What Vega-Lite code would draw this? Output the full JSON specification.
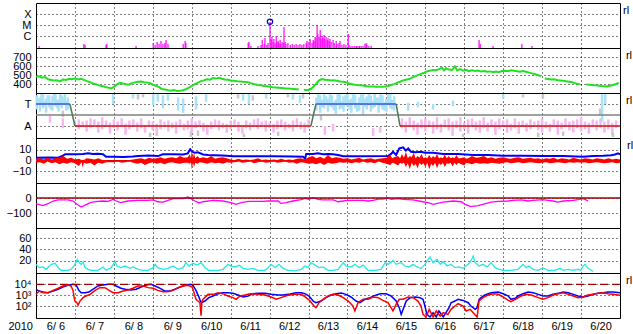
{
"$schema":"https://vega.github.io/schema/vega-lite/v6.json",
"background":"white",
"padding":{"left":5,"top":2,"right":0,"bottom":0},
"spacing":0,
"bounds":"flush",
"config":{
"view":{"stroke":"black","strokeWidth":1},
"font":"Liberation Sans",
"axis":{"labelFont":"Liberation Sans","labelFontSize":11,"labelColor":"black","ticks":false,"domain":false,"grid":true,"gridColor":"black","gridDash":[1,3],"gridWidth":1,"gridOpacity":1,"labelPadding":5,"labelOverlap":false,"labelFlush":false},
"axisY":{"labelBaseline":"middle","minExtent":28,"maxExtent":28,"orient":"left"},
"axisX":{"orient":"bottom"},
"title":{"orient":"right","anchor":"start","frame":"group","angle":0,"fontSize":11,"fontWeight":"normal","font":"Liberation Sans","offset":-3,"baseline":"top","align":"left","dy":2,"color":"black"}
},
"datasets":{
"xr":[{"t":0.08,"v":-0.91},{"t":1.23,"v":-0.73},{"t":1.26,"v":-0.82},{"t":1.80,"v":-0.82},{"t":1.82,"v":-0.73},{"t":2.57,"v":-0.91},{"t":3.01,"v":-0.64},{"t":3.06,"v":-0.82},{"t":3.11,"v":-0.55},{"t":3.16,"v":-0.73},{"t":3.21,"v":-0.45},{"t":3.26,"v":-0.73},{"t":3.31,"v":-0.64},{"t":3.34,"v":-0.36},{"t":3.39,"v":-0.73},{"t":3.78,"v":-0.73},{"t":3.83,"v":-0.45},{"t":3.85,"v":-0.64},{"t":5.45,"v":-0.64},{"t":5.47,"v":-0.55},{"t":5.52,"v":-0.91},{"t":5.70,"v":-0.91},{"t":5.78,"v":-0.82},{"t":5.81,"v":-0.36},{"t":5.86,"v":-0.73},{"t":5.88,"v":-0.18},{"t":5.93,"v":-0.82},{"t":5.96,"v":-0.64},{"t":6.01,"v":1.27},{"t":6.04,"v":-0.36},{"t":6.06,"v":-0.09},{"t":6.09,"v":-0.55},{"t":6.11,"v":-0.27},{"t":6.14,"v":-0.64},{"t":6.17,"v":0},{"t":6.19,"v":-0.55},{"t":6.22,"v":-0.45},{"t":6.24,"v":-0.64},{"t":6.27,"v":-0.36},{"t":6.29,"v":-0.73},{"t":6.32,"v":-0.55},{"t":6.35,"v":-0.64},{"t":6.37,"v":0.82},{"t":6.40,"v":-0.55},{"t":6.42,"v":-0.73},{"t":6.47,"v":-0.64},{"t":6.53,"v":-0.82},{"t":6.58,"v":-0.73},{"t":6.63,"v":-0.82},{"t":6.68,"v":-0.73},{"t":6.73,"v":-0.82},{"t":6.78,"v":-0.73},{"t":6.83,"v":-0.82},{"t":6.88,"v":-0.73},{"t":6.94,"v":-0.64},{"t":6.96,"v":-0.45},{"t":7.01,"v":-0.55},{"t":7.04,"v":-0.27},{"t":7.09,"v":-0.64},{"t":7.12,"v":-0.36},{"t":7.14,"v":-0.45},{"t":7.17,"v":-0.09},{"t":7.19,"v":-0.18},{"t":7.22,"v":1.0},{"t":7.24,"v":0.18},{"t":7.27,"v":-0.09},{"t":7.30,"v":0.55},{"t":7.32,"v":-0.27},{"t":7.35,"v":0},{"t":7.37,"v":-0.18},{"t":7.40,"v":0.09},{"t":7.42,"v":-0.27},{"t":7.45,"v":-0.09},{"t":7.48,"v":-0.36},{"t":7.50,"v":-0.18},{"t":7.53,"v":-0.45},{"t":7.55,"v":-0.27},{"t":7.58,"v":-0.55},{"t":7.63,"v":-0.36},{"t":7.66,"v":-0.64},{"t":7.71,"v":-0.45},{"t":7.73,"v":-0.73},{"t":7.78,"v":-0.64},{"t":7.81,"v":-0.45},{"t":7.86,"v":-0.82},{"t":7.91,"v":-0.73},{"t":7.96,"v":-0.82},{"t":8.02,"v":0.18},{"t":8.04,"v":-0.82},{"t":8.09,"v":-0.91},{"t":8.14,"v":-0.91},{"t":8.19,"v":-0.91},{"t":8.23,"v":-0.91},{"t":8.27,"v":-0.91},{"t":8.31,"v":-0.91},{"t":8.35,"v":-0.91},{"t":8.40,"v":-0.91},{"t":8.45,"v":-0.73},{"t":8.48,"v":-0.64},{"t":8.50,"v":-0.82},{"t":8.55,"v":-0.91},{"t":8.61,"v":-0.91},{"t":11.38,"v":-0.36},{"t":11.41,"v":-0.73},{"t":11.74,"v":-0.91},{"t":12.48,"v":-0.73},{"t":12.74,"v":-0.91}],
"xo":[{"t":6.01,"v":1.3}],
"sw":[{"t":0.00,"v":480,"s":1},{"t":0.08,"v":485,"s":1},{"t":0.15,"v":470,"s":1},{"t":0.23,"v":478,"s":1},{"t":0.31,"v":452,"s":1},{"t":0.39,"v":445,"s":1},{"t":0.46,"v":438,"s":1},{"t":0.54,"v":442,"s":1},{"t":0.62,"v":428,"s":1},{"t":0.69,"v":450,"s":1},{"t":0.77,"v":445,"s":1},{"t":0.85,"v":458,"s":1},{"t":0.92,"v":452,"s":1},{"t":1.00,"v":460,"s":1},{"t":1.08,"v":450,"s":1},{"t":1.16,"v":458,"s":1},{"t":1.23,"v":446,"s":1},{"t":1.31,"v":432,"s":1},{"t":1.39,"v":420,"s":1},{"t":1.46,"v":405,"s":1},{"t":1.54,"v":398,"s":1},{"t":1.62,"v":385,"s":1},{"t":1.69,"v":378,"s":1},{"t":1.77,"v":370,"s":1},{"t":1.85,"v":360,"s":1},{"t":1.93,"v":352,"s":1},{"t":2.00,"v":368,"s":1},{"t":2.08,"v":395,"s":1},{"t":2.16,"v":412,"s":1},{"t":2.23,"v":405,"s":1},{"t":2.31,"v":398,"s":1},{"t":2.39,"v":392,"s":1},{"t":2.46,"v":410,"s":1},{"t":2.54,"v":418,"s":1},{"t":2.62,"v":425,"s":1},{"t":2.70,"v":428,"s":1},{"t":2.77,"v":420,"s":1},{"t":2.85,"v":418,"s":1},{"t":2.93,"v":410,"s":1},{"t":3.00,"v":392,"s":1},{"t":3.08,"v":380,"s":1},{"t":3.16,"v":365,"s":1},{"t":3.23,"v":345,"s":1},{"t":3.31,"v":340,"s":1},{"t":3.39,"v":330,"s":1},{"t":3.47,"v":326,"s":1},{"t":3.54,"v":332,"s":1},{"t":3.62,"v":322,"s":1},{"t":3.70,"v":325,"s":1},{"t":3.77,"v":330,"s":1},{"t":3.85,"v":342,"s":1},{"t":3.93,"v":360,"s":1},{"t":4.00,"v":380,"s":1},{"t":4.08,"v":398,"s":1},{"t":4.16,"v":415,"s":1},{"t":4.24,"v":432,"s":1},{"t":4.31,"v":440,"s":1},{"t":4.39,"v":452,"s":1},{"t":4.47,"v":448,"s":1},{"t":4.54,"v":466,"s":1},{"t":4.62,"v":460,"s":1},{"t":4.70,"v":468,"s":1},{"t":4.77,"v":458,"s":1},{"t":4.85,"v":450,"s":1},{"t":4.93,"v":448,"s":1},{"t":5.00,"v":440,"s":1},{"t":5.08,"v":436,"s":1},{"t":5.16,"v":430,"s":1},{"t":5.24,"v":428,"s":1},{"t":5.31,"v":424,"s":1},{"t":5.39,"v":422,"s":1},{"t":5.47,"v":418,"s":1},{"t":5.54,"v":405,"s":1},{"t":5.62,"v":396,"s":1},{"t":5.70,"v":390,"s":1},{"t":5.78,"v":385,"s":1},{"t":5.85,"v":378,"s":1},{"t":5.93,"v":375,"s":1},{"t":6.01,"v":370,"s":1},{"t":6.08,"v":365,"s":1},{"t":6.16,"v":362,"s":1},{"t":6.24,"v":358,"s":1},{"t":6.31,"v":355,"s":1},{"t":6.39,"v":352,"s":1},{"t":6.47,"v":350,"s":1},{"t":6.55,"v":348,"s":1},{"t":6.62,"v":345,"s":1},{"t":6.70,"v":342,"s":1},{"t":6.75,"v":340,"s":1},
{"t":6.88,"v":336,"s":2},{"t":6.96,"v":330,"s":2},{"t":7.04,"v":338,"s":2},{"t":7.11,"v":365,"s":2},{"t":7.19,"v":400,"s":2},{"t":7.27,"v":440,"s":2},{"t":7.35,"v":455,"s":2},{"t":7.42,"v":448,"s":2},{"t":7.50,"v":445,"s":2},{"t":7.58,"v":440,"s":2},{"t":7.66,"v":442,"s":2},{"t":7.73,"v":436,"s":2},{"t":7.81,"v":428,"s":2},{"t":7.89,"v":425,"s":2},{"t":7.96,"v":420,"s":2},{"t":8.04,"v":405,"s":2},{"t":8.12,"v":398,"s":2},{"t":8.19,"v":392,"s":2},{"t":8.27,"v":388,"s":2},{"t":8.35,"v":385,"s":2},{"t":8.43,"v":380,"s":2},{"t":8.50,"v":376,"s":2},{"t":8.58,"v":373,"s":2},{"t":8.66,"v":372,"s":2},{"t":8.73,"v":370,"s":2},{"t":8.81,"v":370,"s":2},{"t":8.89,"v":369,"s":2},{"t":8.97,"v":372,"s":2},{"t":9.04,"v":378,"s":2},{"t":9.12,"v":388,"s":2},{"t":9.20,"v":398,"s":2},{"t":9.27,"v":412,"s":2},{"t":9.35,"v":425,"s":2},{"t":9.43,"v":440,"s":2},{"t":9.50,"v":448,"s":2},{"t":9.58,"v":455,"s":2},{"t":9.66,"v":470,"s":2},{"t":9.74,"v":485,"s":2},{"t":9.81,"v":498,"s":2},{"t":9.89,"v":512,"s":2},{"t":9.97,"v":525,"s":2},{"t":10.04,"v":540,"s":2},{"t":10.12,"v":548,"s":2},{"t":10.20,"v":555,"s":2},{"t":10.28,"v":552,"s":2},{"t":10.35,"v":565,"s":2},{"t":10.43,"v":580,"s":2},{"t":10.48,"v":550,"s":2},{"t":10.53,"v":575,"s":2},{"t":10.61,"v":560,"s":2},{"t":10.69,"v":556,"s":2},{"t":10.76,"v":595,"s":2},{"t":10.82,"v":550,"s":2},{"t":10.89,"v":565,"s":2},{"t":10.97,"v":548,"s":2},{"t":11.05,"v":558,"s":2},{"t":11.12,"v":542,"s":2},{"t":11.20,"v":552,"s":2},{"t":11.28,"v":545,"s":2},{"t":11.35,"v":550,"s":2},{"t":11.43,"v":538,"s":2},{"t":11.51,"v":545,"s":2},{"t":11.59,"v":536,"s":2},{"t":11.66,"v":540,"s":2},{"t":11.74,"v":530,"s":2},{"t":11.82,"v":538,"s":2},{"t":11.89,"v":532,"s":2},{"t":11.97,"v":545,"s":2},{"t":12.05,"v":548,"s":2},{"t":12.13,"v":542,"s":2},{"t":12.20,"v":552,"s":2},{"t":12.28,"v":546,"s":2},{"t":12.36,"v":542,"s":2},{"t":12.43,"v":536,"s":2},{"t":12.51,"v":545,"s":2},{"t":12.59,"v":536,"s":2},{"t":12.66,"v":526,"s":2},{"t":12.74,"v":518,"s":2},{"t":12.82,"v":508,"s":2},{"t":12.90,"v":498,"s":2},{"t":12.97,"v":488,"s":2},
{"t":13.07,"v":460,"s":3},{"t":13.15,"v":455,"s":3},{"t":13.23,"v":450,"s":3},{"t":13.30,"v":452,"s":3},{"t":13.38,"v":445,"s":3},{"t":13.46,"v":440,"s":3},{"t":13.53,"v":435,"s":3},{"t":13.61,"v":430,"s":3},{"t":13.69,"v":425,"s":3},{"t":13.77,"v":420,"s":3},{"t":13.84,"v":410,"s":3},{"t":13.92,"v":400,"s":3},{"t":13.97,"v":396,"s":3},
{"t":14.13,"v":395,"s":4},{"t":14.20,"v":392,"s":4},{"t":14.28,"v":388,"s":4},{"t":14.36,"v":385,"s":4},{"t":14.44,"v":383,"s":4},{"t":14.51,"v":378,"s":4},{"t":14.59,"v":375,"s":4},{"t":14.67,"v":372,"s":4},{"t":14.74,"v":380,"s":4},{"t":14.82,"v":388,"s":4},{"t":14.90,"v":400,"s":4},{"t":14.97,"v":412,"s":4}],
"tal":[{"t":0,"v":1,"c":"Tl","s":1},{"t":0.87,"v":1,"c":"Tl","s":1},{"t":0.87,"v":1,"c":"Xl","s":2},{"t":1.0,"v":-1,"c":"Xl","s":2},{"t":1.0,"v":-1,"c":"Al","s":3},{"t":7.06,"v":-1,"c":"Al","s":3},{"t":7.06,"v":-1,"c":"Xl","s":4},{"t":7.19,"v":1,"c":"Xl","s":4},{"t":7.19,"v":1,"c":"Tl","s":5},{"t":9.25,"v":1,"c":"Tl","s":5},{"t":9.25,"v":1,"c":"Xl","s":6},{"t":9.35,"v":-1,"c":"Xl","s":6},{"t":9.35,"v":-1,"c":"Al","s":7},{"t":15,"v":-1,"c":"Al","s":7}],
"tas":[{"t":0.02,"lo":0.5,"hi":1.8,"k":"Tp"},{"t":0.06,"lo":0.9,"hi":1.5,"k":"Tp"},{"t":0.1,"lo":0.3,"hi":1.6,"k":"Tp"},{"t":0.14,"lo":1.0,"hi":1.9,"k":"Tp"},{"t":0.18,"lo":0.6,"hi":1.9,"k":"Tp"},{"t":0.22,"lo":0.8,"hi":1.3,"k":"Tp"},{"t":0.26,"lo":0.2,"hi":1.5,"k":"Tp"},{"t":0.3,"lo":1.1,"hi":1.8,"k":"Tp"},{"t":0.34,"lo":0.7,"hi":1.8,"k":"Tp"},{"t":0.38,"lo":0.5,"hi":1.2,"k":"Tp"},{"t":0.42,"lo":0.4,"hi":1.7,"k":"Tp"},{"t":0.46,"lo":1.2,"hi":1.9,"k":"Tp"},{"t":0.5,"lo":0.8,"hi":1.9,"k":"Tp"},{"t":0.54,"lo":0.6,"hi":1.4,"k":"Tp"},{"t":0.58,"lo":0.3,"hi":1.4,"k":"Tp"},{"t":0.62,"lo":1.0,"hi":1.9,"k":"Tp"},{"t":0.66,"lo":0.6,"hi":1.8,"k":"Tp"},{"t":0.7,"lo":0.9,"hi":1.6,"k":"Tp"},{"t":0.74,"lo":0.9,"hi":1.9,"k":"Tp"},{"t":0.78,"lo":0.4,"hi":1.3,"k":"Tp"},{"t":0.82,"lo":0.5,"hi":1.6,"k":"Tp"},
{"t":1.0,"lo":-1.0,"hi":-0.5,"k":"Ap"},{"t":1.1,"lo":-1.3,"hi":-0.4,"k":"Ap"},{"t":1.2,"lo":-1.1,"hi":-0.6,"k":"Ap"},{"t":1.3,"lo":-1.5,"hi":-0.5,"k":"Ap"},{"t":1.4,"lo":-1.2,"hi":-0.3,"k":"Ap"},{"t":1.5,"lo":-0.9,"hi":-0.4,"k":"Ap"},{"t":1.6,"lo":-1.6,"hi":-0.6,"k":"Ap"},{"t":1.7,"lo":-1.3,"hi":-0.2,"k":"Ap"},{"t":1.8,"lo":-1.0,"hi":-0.5,"k":"Ap"},{"t":1.9,"lo":-1.7,"hi":-0.7,"k":"Ap"},{"t":2.0,"lo":-1.2,"hi":-0.4,"k":"Ap"},{"t":2.1,"lo":-1.4,"hi":-0.6,"k":"Ap"},{"t":2.2,"lo":-1.1,"hi":-0.3,"k":"Ap"},{"t":2.3,"lo":-1.8,"hi":-0.8,"k":"Ap"},{"t":2.4,"lo":-1.3,"hi":-0.5,"k":"Ap"},{"t":2.5,"lo":-1.0,"hi":-0.4,"k":"Ap"},{"t":2.6,"lo":-1.5,"hi":-0.7,"k":"Ap"},{"t":2.7,"lo":-1.2,"hi":-0.3,"k":"Ap"},{"t":2.8,"lo":-1.6,"hi":-0.9,"k":"Ap"},{"t":2.9,"lo":-1.1,"hi":-0.5,"k":"Ap"},{"t":3.0,"lo":-1.4,"hi":-0.6,"k":"Ap"},{"t":3.1,"lo":-1.9,"hi":-0.8,"k":"Ap"},{"t":3.2,"lo":-1.3,"hi":-0.4,"k":"Ap"},{"t":3.3,"lo":-1.0,"hi":-0.6,"k":"Ap"},{"t":3.4,"lo":-1.5,"hi":-0.5,"k":"Ap"},{"t":3.5,"lo":-1.2,"hi":-0.7,"k":"Ap"},{"t":3.6,"lo":-1.7,"hi":-0.6,"k":"Ap"},{"t":3.7,"lo":-1.1,"hi":-0.4,"k":"Ap"},{"t":3.8,"lo":-1.4,"hi":-0.8,"k":"Ap"},{"t":3.9,"lo":-1.3,"hi":-0.5,"k":"Ap"},{"t":4.0,"lo":-1.6,"hi":-0.3,"k":"Ap"},{"t":4.1,"lo":-1.2,"hi":-0.6,"k":"Ap"},{"t":4.2,"lo":-1.0,"hi":-0.5,"k":"Ap"},{"t":4.3,"lo":-1.5,"hi":-0.7,"k":"Ap"},{"t":4.4,"lo":-1.8,"hi":-0.9,"k":"Ap"},{"t":4.5,"lo":-1.3,"hi":-0.6,"k":"Ap"},{"t":4.6,"lo":-1.1,"hi":-0.4,"k":"Ap"},{"t":4.7,"lo":-1.4,"hi":-0.5,"k":"Ap"},{"t":4.8,"lo":-1.2,"hi":-0.7,"k":"Ap"},{"t":4.9,"lo":-1.6,"hi":-0.8,"k":"Ap"},{"t":5.0,"lo":-1.3,"hi":-0.5,"k":"Ap"},{"t":5.1,"lo":-1.0,"hi":-0.4,"k":"Ap"},{"t":5.2,"lo":-1.5,"hi":-0.6,"k":"Ap"},{"t":5.3,"lo":-1.7,"hi":-0.9,"k":"Ap"},{"t":5.4,"lo":-1.2,"hi":-0.5,"k":"Ap"},{"t":5.5,"lo":-1.4,"hi":-0.7,"k":"Ap"},{"t":5.6,"lo":-1.1,"hi":-0.4,"k":"Ap"},{"t":5.7,"lo":-1.3,"hi":-0.3,"k":"Ap"},{"t":5.8,"lo":-1.0,"hi":-0.6,"k":"Ap"},{"t":5.9,"lo":-1.5,"hi":-0.5,"k":"Ap"},{"t":6.0,"lo":-1.2,"hi":-0.7,"k":"Ap"},{"t":6.1,"lo":-1.6,"hi":-0.8,"k":"Ap"},{"t":6.2,"lo":-1.3,"hi":-0.5,"k":"Ap"},{"t":6.3,"lo":-1.0,"hi":-0.4,"k":"Ap"},{"t":6.4,"lo":-1.4,"hi":-0.6,"k":"Ap"},{"t":6.5,"lo":-1.2,"hi":-0.8,"k":"Ap"},{"t":6.6,"lo":-1.5,"hi":-0.5,"k":"Ap"},{"t":6.7,"lo":-1.1,"hi":-0.3,"k":"Ap"},{"t":6.8,"lo":-1.3,"hi":-0.6,"k":"Ap"},{"t":6.9,"lo":-1.6,"hi":-0.7,"k":"Ap"},{"t":7.0,"lo":-1.2,"hi":-0.4,"k":"Ap"},
{"t":7.2,"lo":0.4,"hi":1.6,"k":"Tp"},{"t":7.25,"lo":0.9,"hi":1.9,"k":"Tp"},{"t":7.3,"lo":0.2,"hi":1.8,"k":"Tp"},{"t":7.35,"lo":0.7,"hi":1.4,"k":"Tp"},{"t":7.4,"lo":0.6,"hi":1.9,"k":"Tp"},{"t":7.45,"lo":1.0,"hi":1.7,"k":"Tp"},{"t":7.5,"lo":0.3,"hi":1.5,"k":"Tp"},{"t":7.55,"lo":0.8,"hi":1.9,"k":"Tp"},{"t":7.6,"lo":0.7,"hi":1.8,"k":"Tp"},{"t":7.65,"lo":0.4,"hi":1.2,"k":"Tp"},{"t":7.7,"lo":0.1,"hi":1.4,"k":"Tp"},{"t":7.75,"lo":1.1,"hi":1.9,"k":"Tp"},{"t":7.8,"lo":0.5,"hi":1.9,"k":"Tp"},{"t":7.85,"lo":0.6,"hi":1.3,"k":"Tp"},{"t":7.9,"lo":0.3,"hi":1.7,"k":"Tp"},{"t":7.95,"lo":1.0,"hi":1.8,"k":"Tp"},{"t":8.0,"lo":0.8,"hi":1.9,"k":"Tp"},{"t":8.05,"lo":0.5,"hi":1.4,"k":"Tp"},{"t":8.1,"lo":0.2,"hi":1.5,"k":"Tp"},{"t":8.15,"lo":0.9,"hi":1.9,"k":"Tp"},{"t":8.2,"lo":0.6,"hi":1.8,"k":"Tp"},{"t":8.25,"lo":0.3,"hi":1.1,"k":"Tp"},{"t":8.3,"lo":0.4,"hi":1.6,"k":"Tp"},{"t":8.35,"lo":1.0,"hi":1.9,"k":"Tp"},{"t":8.4,"lo":0.0,"hi":1.9,"k":"Tp"},{"t":8.45,"lo":0.7,"hi":1.5,"k":"Tp"},{"t":8.5,"lo":0.5,"hi":1.7,"k":"Tp"},{"t":8.55,"lo":1.1,"hi":1.9,"k":"Tp"},{"t":8.6,"lo":0.3,"hi":1.8,"k":"Tp"},{"t":8.65,"lo":0.6,"hi":1.3,"k":"Tp"},{"t":8.7,"lo":0.7,"hi":1.9,"k":"Tp"},{"t":8.75,"lo":0.9,"hi":1.6,"k":"Tp"},{"t":8.8,"lo":0.2,"hi":1.6,"k":"Tp"},{"t":8.85,"lo":0.8,"hi":1.9,"k":"Tp"},{"t":8.9,"lo":0.5,"hi":1.8,"k":"Tp"},{"t":8.95,"lo":0.4,"hi":1.2,"k":"Tp"},{"t":9.0,"lo":0.3,"hi":1.5,"k":"Tp"},{"t":9.05,"lo":1.0,"hi":1.9,"k":"Tp"},{"t":9.1,"lo":0.6,"hi":1.9,"k":"Tp"},{"t":9.15,"lo":0.5,"hi":1.4,"k":"Tp"},{"t":9.2,"lo":0.4,"hi":1.7,"k":"Tp"},
{"t":9.4,"lo":-1.2,"hi":-0.3,"k":"Ap"},{"t":9.5,"lo":-1.6,"hi":-0.6,"k":"Ap"},{"t":9.6,"lo":-1.1,"hi":-0.2,"k":"Ap"},{"t":9.7,"lo":-1.4,"hi":-0.5,"k":"Ap"},{"t":9.8,"lo":-1.8,"hi":-0.7,"k":"Ap"},{"t":9.9,"lo":-1.2,"hi":-0.4,"k":"Ap"},{"t":10.0,"lo":-1.5,"hi":-0.3,"k":"Ap"},{"t":10.1,"lo":-1.0,"hi":-0.5,"k":"Ap"},{"t":10.2,"lo":-1.7,"hi":-0.6,"k":"Ap"},{"t":10.3,"lo":-1.3,"hi":-0.2,"k":"Ap"},{"t":10.4,"lo":-1.6,"hi":-0.8,"k":"Ap"},{"t":10.5,"lo":-1.1,"hi":-0.4,"k":"Ap"},{"t":10.6,"lo":-1.4,"hi":-0.3,"k":"Ap"},{"t":10.7,"lo":-1.9,"hi":-0.6,"k":"Ap"},{"t":10.8,"lo":-1.2,"hi":-0.5,"k":"Ap"},{"t":10.9,"lo":-1.5,"hi":-0.2,"k":"Ap"},{"t":11.0,"lo":-1.3,"hi":-0.7,"k":"Ap"},{"t":11.1,"lo":-1.7,"hi":-0.4,"k":"Ap"},{"t":11.2,"lo":-1.0,"hi":-0.3,"k":"Ap"},{"t":11.3,"lo":-1.4,"hi":-0.6,"k":"Ap"},{"t":11.4,"lo":-1.6,"hi":-0.5,"k":"Ap"},{"t":11.5,"lo":-1.2,"hi":-0.2,"k":"Ap"},{"t":11.6,"lo":-1.5,"hi":-0.7,"k":"Ap"},{"t":11.7,"lo":-1.1,"hi":-0.4,"k":"Ap"},{"t":11.8,"lo":-1.8,"hi":-0.6,"k":"Ap"},{"t":11.9,"lo":-1.3,"hi":-0.3,"k":"Ap"},{"t":12.0,"lo":-1.0,"hi":-0.5,"k":"Ap"},{"t":12.1,"lo":-1.6,"hi":-0.4,"k":"Ap"},{"t":12.2,"lo":-1.4,"hi":-0.8,"k":"Ap"},{"t":12.3,"lo":-1.2,"hi":-0.3,"k":"Ap"},{"t":12.4,"lo":-1.7,"hi":-0.6,"k":"Ap"},{"t":12.5,"lo":-1.1,"hi":-0.5,"k":"Ap"},{"t":12.6,"lo":-1.5,"hi":-0.7,"k":"Ap"},{"t":12.7,"lo":-1.3,"hi":-0.4,"k":"Ap"},{"t":12.8,"lo":-1.0,"hi":-0.6,"k":"Ap"},{"t":12.9,"lo":-1.4,"hi":-0.5,"k":"Ap"},{"t":13.0,"lo":-1.6,"hi":-0.3,"k":"Ap"},{"t":13.1,"lo":-1.2,"hi":-0.6,"k":"Ap"},{"t":13.2,"lo":-1.5,"hi":-0.8,"k":"Ap"},{"t":13.3,"lo":-1.1,"hi":-0.4,"k":"Ap"},{"t":13.4,"lo":-1.8,"hi":-0.5,"k":"Ap"},{"t":13.5,"lo":-1.3,"hi":-0.7,"k":"Ap"},{"t":13.6,"lo":-1.0,"hi":-0.3,"k":"Ap"},{"t":13.7,"lo":-1.4,"hi":-0.6,"k":"Ap"},{"t":13.8,"lo":-1.6,"hi":-0.5,"k":"Ap"},{"t":13.9,"lo":-1.2,"hi":-0.4,"k":"Ap"},{"t":14.0,"lo":-1.5,"hi":-0.2,"k":"Ap"},{"t":14.1,"lo":-1.3,"hi":-0.6,"k":"Ap"},{"t":14.2,"lo":-1.7,"hi":-0.7,"k":"Ap"},{"t":14.3,"lo":-1.1,"hi":-0.4,"k":"Ap"},{"t":14.4,"lo":-1.4,"hi":-0.5,"k":"Ap"},{"t":14.5,"lo":-1.2,"hi":-0.3,"k":"Ap"},{"t":14.6,"lo":-1.6,"hi":-0.6,"k":"Ap"},{"t":14.7,"lo":-1.3,"hi":-0.4,"k":"Ap"},{"t":14.8,"lo":-1.8,"hi":-0.7,"k":"Ap"},{"t":14.9,"lo":-1.2,"hi":-0.5,"k":"Ap"},
{"t":1.98,"lo":1.0,"hi":1.9,"k":"Tp"},{"t":2.49,"lo":1.5,"hi":1.9,"k":"Tp"},{"t":3.01,"lo":0.9,"hi":1.9,"k":"Tp"},{"t":3.13,"lo":1.2,"hi":1.9,"k":"Tp"},{"t":3.26,"lo":0.6,"hi":1.8,"k":"Tp"},{"t":3.39,"lo":1.3,"hi":1.9,"k":"Tp"},{"t":3.65,"lo":0.4,"hi":1.6,"k":"Tp"},{"t":3.78,"lo":0.2,"hi":1.5,"k":"Tp"},{"t":4.11,"lo":0.5,"hi":1.7,"k":"Tp"},{"t":4.37,"lo":1.2,"hi":1.9,"k":"Tp"},{"t":5.32,"lo":1.3,"hi":1.9,"k":"Tp"},{"t":5.47,"lo":1.0,"hi":1.9,"k":"Tp"},{"t":5.91,"lo":1.5,"hi":1.9,"k":"Tp"},{"t":6.60,"lo":1.4,"hi":1.9,"k":"Tp"},{"t":6.78,"lo":1.1,"hi":1.8,"k":"Tp"},{"t":9.56,"lo":0.4,"hi":1.1,"k":"Tp"},{"t":9.81,"lo":0.7,"hi":1.2,"k":"Tp"},{"t":10.20,"lo":0.5,"hi":1.0,"k":"Tp"},{"t":10.71,"lo":0.8,"hi":1.3,"k":"Tp"},{"t":12.00,"lo":1.5,"hi":1.9,"k":"Tp"},{"t":14.54,"lo":-0.6,"hi":1.9,"k":"Tp"},{"t":14.62,"lo":1.0,"hi":1.9,"k":"Tp"},
{"t":0.69,"lo":-0.2,"hi":0.4,"k":"Gp"},{"t":2.62,"lo":1.4,"hi":1.9,"k":"Gp"},{"t":2.75,"lo":1.6,"hi":1.9,"k":"Gp"},{"t":2.93,"lo":-2.0,"hi":-1.6,"k":"Gp"},{"t":3.98,"lo":-2.0,"hi":-1.5,"k":"Gp"},{"t":4.16,"lo":-1.9,"hi":-1.4,"k":"Gp"},{"t":5.19,"lo":1.5,"hi":1.9,"k":"Gp"},{"t":5.34,"lo":-2.0,"hi":-1.7,"k":"Gp"},{"t":5.57,"lo":1.3,"hi":1.8,"k":"Gp"},{"t":6.22,"lo":-1.9,"hi":-1.5,"k":"Gp"},{"t":6.47,"lo":1.6,"hi":1.9,"k":"Gp"},{"t":6.86,"lo":1.5,"hi":1.9,"k":"Gp"},{"t":7.32,"lo":-0.5,"hi":0.0,"k":"Gp"},{"t":10.97,"lo":-2.0,"hi":-1.7,"k":"Gp"},{"t":12.51,"lo":1.6,"hi":1.9,"k":"Gp"},{"t":12.90,"lo":-2.0,"hi":-1.6,"k":"Gp"},{"t":13.02,"lo":1.5,"hi":1.9,"k":"Gp"},{"t":13.54,"lo":-1.9,"hi":-1.5,"k":"Gp"},{"t":14.49,"lo":0.0,"hi":0.6,"k":"Gp"},{"t":14.82,"lo":-2.0,"hi":-1.6,"k":"Gp"},
{"t":0.36,"lo":-0.7,"hi":-0.1,"k":"Ap"},{"t":0.69,"lo":-1.2,"hi":-0.3,"k":"Ap"},{"t":7.42,"lo":-1.8,"hi":-1.0,"k":"Ap"},{"t":7.63,"lo":-1.5,"hi":-0.8,"k":"Ap"},{"t":8.66,"lo":-1.9,"hi":-1.2,"k":"Ap"},{"t":8.84,"lo":-1.6,"hi":-1.1,"k":"Ap"}],
"bt":[{"t":0,"v":2.5},{"t":0.31,"v":2.8},{"t":0.57,"v":2.5},{"t":0.69,"v":4.5},{"t":0.75,"v":5.6},{"t":0.95,"v":5.6},{"t":1.21,"v":6.0},{"t":1.34,"v":6.5},{"t":1.46,"v":6.0},{"t":1.59,"v":6.2},{"t":1.72,"v":5.8},{"t":1.80,"v":3.4},{"t":1.98,"v":3.5},{"t":2.24,"v":3.2},{"t":2.49,"v":3.6},{"t":2.62,"v":4.2},{"t":2.88,"v":4.5},{"t":3.13,"v":4.0},{"t":3.26,"v":5.6},{"t":3.52,"v":5.8},{"t":3.78,"v":5.4},{"t":3.90,"v":6.5},{"t":3.96,"v":10.2},{"t":4.01,"v":8},{"t":4.08,"v":7},{"t":4.16,"v":7.5},{"t":4.29,"v":5.5},{"t":4.42,"v":5.0},{"t":4.55,"v":4.8},{"t":4.80,"v":4.5},{"t":5.06,"v":3.9},{"t":5.57,"v":3.8},{"t":6.09,"v":3.9},{"t":6.60,"v":3.6},{"t":6.86,"v":3.5},{"t":6.91,"v":1.5},{"t":6.94,"v":6.0},{"t":7.12,"v":6.0},{"t":7.24,"v":6.5},{"t":7.37,"v":5.6},{"t":7.50,"v":6.0},{"t":7.63,"v":5.6},{"t":7.76,"v":5.0},{"t":7.89,"v":3.8},{"t":8.40,"v":3.9},{"t":9.04,"v":4.0},{"t":9.12,"v":6},{"t":9.17,"v":8},{"t":9.25,"v":5},{"t":9.33,"v":11},{"t":9.43,"v":12},{"t":9.50,"v":9},{"t":9.56,"v":11},{"t":9.63,"v":8},{"t":9.74,"v":7.5},{"t":9.89,"v":8},{"t":9.99,"v":7},{"t":10.20,"v":7},{"t":10.46,"v":6},{"t":10.84,"v":6},{"t":11.23,"v":5},{"t":11.61,"v":5},{"t":12.00,"v":4.3},{"t":12.51,"v":4.3},{"t":13.02,"v":4.0},{"t":13.54,"v":4.0},{"t":14.05,"v":3.5},{"t":14.31,"v":4},{"t":14.57,"v":4.3},{"t":14.77,"v":4.8},{"t":14.87,"v":5.5},{"t":14.95,"v":6.5},{"t":15.0,"v":5.6}],
"bz":[{"t":0.0,"lo":-2,"hi":1.5},{"t":0.1,"lo":-1.5,"hi":2},{"t":0.2,"lo":-3,"hi":1},{"t":0.3,"lo":-1,"hi":2.5},{"t":0.4,"lo":-2.5,"hi":1},{"t":0.5,"lo":-1.5,"hi":2},{"t":0.6,"lo":-3.5,"hi":3},{"t":0.7,"lo":-2,"hi":4},{"t":0.8,"lo":-3,"hi":1.5},{"t":0.9,"lo":-1.5,"hi":2.5},{"t":1.0,"lo":-2.5,"hi":1},{"t":1.1,"lo":-5,"hi":1.5},{"t":1.17,"lo":-1.5,"hi":0.5},{"t":1.2,"lo":-6.5,"hi":0.5},{"t":1.23,"lo":-2,"hi":0.5},{"t":1.3,"lo":-3,"hi":2},{"t":1.4,"lo":-2,"hi":1.5},{"t":1.5,"lo":-4.5,"hi":1},{"t":1.6,"lo":-2,"hi":2},{"t":1.7,"lo":-3,"hi":0.5},{"t":1.8,"lo":-1.5,"hi":0.5},{"t":1.9,"lo":-1.5,"hi":0},{"t":2.0,"lo":-1.5,"hi":0.5},{"t":2.1,"lo":-1,"hi":0},{"t":2.2,"lo":-2,"hi":0.5},{"t":2.3,"lo":-1.5,"hi":0},{"t":2.4,"lo":-1,"hi":0.5},{"t":2.5,"lo":-2,"hi":1},{"t":2.6,"lo":-3,"hi":1.5},{"t":2.7,"lo":-2,"hi":2},{"t":2.8,"lo":-4,"hi":1},{"t":2.9,"lo":-2.5,"hi":2.5},{"t":3.0,"lo":-1.5,"hi":1.5},{"t":3.1,"lo":-3,"hi":2},{"t":3.2,"lo":-2,"hi":3},{"t":3.3,"lo":-3.5,"hi":1.5},{"t":3.4,"lo":-2,"hi":2.5},{"t":3.5,"lo":-1.5,"hi":3},{"t":3.6,"lo":-2.5,"hi":2},{"t":3.7,"lo":-3,"hi":4},{"t":3.8,"lo":-2,"hi":2.5},{"t":3.9,"lo":-2,"hi":3},{"t":3.95,"lo":-3,"hi":6},{"t":3.98,"lo":-1.5,"hi":2},{"t":4.0,"lo":-8,"hi":10},{"t":4.03,"lo":-2,"hi":2.5},{"t":4.06,"lo":-6,"hi":7},{"t":4.09,"lo":-2,"hi":2},{"t":4.15,"lo":-3,"hi":4},{"t":4.2,"lo":-1.5,"hi":2},{"t":4.3,"lo":-2,"hi":3},{"t":4.4,"lo":-3,"hi":2},{"t":4.5,"lo":-1.5,"hi":4},{"t":4.6,"lo":-2.5,"hi":1.5},{"t":4.7,"lo":-2,"hi":2.5},{"t":4.8,"lo":-3,"hi":3},{"t":4.9,"lo":-1.5,"hi":2},{"t":5.0,"lo":-2,"hi":1},{"t":5.1,"lo":-1.5,"hi":0.5},{"t":5.2,"lo":-1,"hi":1.5},{"t":5.3,"lo":-2,"hi":0.5},{"t":5.4,"lo":-1.5,"hi":1},{"t":5.5,"lo":-1,"hi":0.5},{"t":5.6,"lo":-2.5,"hi":1},{"t":5.7,"lo":-1.5,"hi":2},{"t":5.8,"lo":-1,"hi":0.5},{"t":5.9,"lo":-2,"hi":1},{"t":6.0,"lo":-1.5,"hi":0.5},{"t":6.1,"lo":-1,"hi":1},{"t":6.2,"lo":-2,"hi":0.5},{"t":6.3,"lo":-1.5,"hi":1.5},{"t":6.4,"lo":-1,"hi":0.5},{"t":6.5,"lo":-2,"hi":1},{"t":6.6,"lo":-1.5,"hi":0.5},{"t":6.7,"lo":-3,"hi":1.5},{"t":6.8,"lo":-1.5,"hi":2},{"t":6.9,"lo":-2,"hi":1},{"t":7.0,"lo":-3,"hi":3},{"t":7.1,"lo":-2.5,"hi":4},{"t":7.2,"lo":-3.5,"hi":2},{"t":7.3,"lo":-2,"hi":3.5},{"t":7.4,"lo":-4,"hi":1.5},{"t":7.5,"lo":-2,"hi":5},{"t":7.6,"lo":-3,"hi":2},{"t":7.7,"lo":-2.5,"hi":3},{"t":7.8,"lo":-1.5,"hi":2.5},{"t":7.9,"lo":-2,"hi":1.5},{"t":8.0,"lo":-1.5,"hi":2},{"t":8.1,"lo":-2.5,"hi":1},{"t":8.2,"lo":-1.5,"hi":1.5},{"t":8.3,"lo":-2,"hi":2.5},{"t":8.4,"lo":-1,"hi":1},{"t":8.5,"lo":-2,"hi":1.5},{"t":8.6,"lo":-1.5,"hi":2},{"t":8.7,"lo":-2.5,"hi":1},{"t":8.8,"lo":-1,"hi":1.5},{"t":8.9,"lo":-2,"hi":2},{"t":9.0,"lo":-3,"hi":2.5},{"t":9.1,"lo":-4,"hi":5},{"t":9.15,"lo":-2,"hi":2},{"t":9.2,"lo":-2.5,"hi":3},{"t":9.3,"lo":-4.5,"hi":4},{"t":9.35,"lo":-2,"hi":2},{"t":9.4,"lo":-3,"hi":6},{"t":9.45,"lo":-2,"hi":2.5},{"t":9.5,"lo":-6,"hi":8},{"t":9.55,"lo":-2.5,"hi":2},{"t":9.6,"lo":-8,"hi":4},{"t":9.65,"lo":-2,"hi":3},{"t":9.7,"lo":-5,"hi":7},{"t":9.75,"lo":-3,"hi":2},{"t":9.8,"lo":-7,"hi":4},{"t":9.85,"lo":-2,"hi":2.5},{"t":9.9,"lo":-4,"hi":6},{"t":9.95,"lo":-2.5,"hi":2},{"t":10.0,"lo":-6,"hi":3},{"t":10.05,"lo":-2,"hi":2},{"t":10.1,"lo":-8,"hi":5},{"t":10.15,"lo":-3,"hi":2},{"t":10.2,"lo":-5,"hi":4},{"t":10.25,"lo":-2,"hi":2.5},{"t":10.3,"lo":-7,"hi":6},{"t":10.35,"lo":-2.5,"hi":2},{"t":10.4,"lo":-4,"hi":3},{"t":10.45,"lo":-2,"hi":2},{"t":10.5,"lo":-6,"hi":5.5},{"t":10.55,"lo":-2.5,"hi":2},{"t":10.6,"lo":-3,"hi":4},{"t":10.65,"lo":-2,"hi":2},{"t":10.7,"lo":-5.5,"hi":3},{"t":10.75,"lo":-2,"hi":2},{"t":10.8,"lo":-4,"hi":5},{"t":10.85,"lo":-2,"hi":2},{"t":10.9,"lo":-3,"hi":2},{"t":11.0,"lo":-4.5,"hi":3},{"t":11.05,"lo":-2,"hi":1.5},{"t":11.1,"lo":-2.5,"hi":2},{"t":11.2,"lo":-3.5,"hi":4},{"t":11.3,"lo":-2,"hi":2.5},{"t":11.4,"lo":-3,"hi":3},{"t":11.5,"lo":-2.5,"hi":4},{"t":11.6,"lo":-3,"hi":2},{"t":11.7,"lo":-2,"hi":3},{"t":11.8,"lo":-2.5,"hi":1.5},{"t":11.9,"lo":-3,"hi":2.5},{"t":12.0,"lo":-2,"hi":3},{"t":12.1,"lo":-1.5,"hi":2},{"t":12.2,"lo":-2.5,"hi":1.5},{"t":12.3,"lo":-2,"hi":2.5},{"t":12.4,"lo":-1.5,"hi":3},{"t":12.5,"lo":-2.5,"hi":1.5},{"t":12.6,"lo":-2,"hi":2},{"t":12.7,"lo":-1.5,"hi":2.5},{"t":12.8,"lo":-2,"hi":1.5},{"t":12.9,"lo":-2.5,"hi":2},{"t":13.0,"lo":-2,"hi":1},{"t":13.1,"lo":-1.5,"hi":2},{"t":13.2,"lo":-2.5,"hi":1.5},{"t":13.3,"lo":-2,"hi":2.5},{"t":13.4,"lo":-1.5,"hi":1},{"t":13.5,"lo":-2,"hi":2},{"t":13.6,"lo":-2.5,"hi":1.5},{"t":13.7,"lo":-1.5,"hi":1},{"t":13.8,"lo":-2,"hi":2.5},{"t":13.9,"lo":-1.5,"hi":1.5},{"t":14.0,"lo":-2,"hi":1},{"t":14.1,"lo":-1.5,"hi":2},{"t":14.2,"lo":-2.5,"hi":1.5},{"t":14.3,"lo":-2,"hi":1},{"t":14.4,"lo":-1.5,"hi":2},{"t":14.5,"lo":-2,"hi":1.5},{"t":14.6,"lo":-2.5,"hi":1},{"t":14.7,"lo":-2,"hi":2},{"t":14.8,"lo":-1.5,"hi":1},{"t":14.9,"lo":-2.5,"hi":1.5},{"t":15.0,"lo":-2,"hi":1}],
"dst":[{"t":0,"v":-38},{"t":0.18,"v":-51},{"t":0.31,"v":-38},{"t":0.44,"v":-20},{"t":0.57,"v":-13},{"t":0.69,"v":-12},{"t":0.82,"v":-13},{"t":0.95,"v":-20},{"t":1.08,"v":-47},{"t":1.16,"v":-60},{"t":1.26,"v":-47},{"t":1.41,"v":-29},{"t":1.59,"v":-22},{"t":1.72,"v":-20},{"t":1.85,"v":-22},{"t":1.98,"v":-9},{"t":2.06,"v":-20},{"t":2.18,"v":-31},{"t":2.36,"v":-20},{"t":2.62,"v":-16},{"t":2.88,"v":-16},{"t":3.01,"v":-13},{"t":3.13,"v":-25},{"t":3.26,"v":-27},{"t":3.39,"v":-16},{"t":3.52,"v":-4},{"t":3.78,"v":-4},{"t":3.90,"v":7},{"t":3.98,"v":-4},{"t":4.08,"v":-20},{"t":4.19,"v":-33},{"t":4.29,"v":-25},{"t":4.55,"v":-16},{"t":4.80,"v":-20},{"t":5.01,"v":-31},{"t":5.14,"v":-42},{"t":5.27,"v":-31},{"t":5.45,"v":-22},{"t":5.83,"v":-22},{"t":5.96,"v":-20},{"t":6.22,"v":-20},{"t":6.29,"v":-36},{"t":6.42,"v":-31},{"t":6.60,"v":-20},{"t":6.81,"v":-11},{"t":6.91,"v":-2},{"t":7.01,"v":-9},{"t":7.12,"v":2},{"t":7.24,"v":-9},{"t":7.37,"v":-13},{"t":7.63,"v":-13},{"t":7.76,"v":-25},{"t":7.89,"v":-20},{"t":8.02,"v":-16},{"t":8.40,"v":-16},{"t":8.53,"v":-20},{"t":8.66,"v":-16},{"t":8.79,"v":-7},{"t":8.91,"v":-7},{"t":9.04,"v":0},{"t":9.12,"v":-9},{"t":9.30,"v":-4},{"t":9.43,"v":-9},{"t":9.68,"v":-13},{"t":9.94,"v":-25},{"t":10.07,"v":-31},{"t":10.20,"v":-42},{"t":10.46,"v":-27},{"t":10.71,"v":-20},{"t":10.92,"v":-25},{"t":11.02,"v":-42},{"t":11.17,"v":-58},{"t":11.35,"v":-51},{"t":11.48,"v":-42},{"t":11.69,"v":-27},{"t":11.87,"v":-22},{"t":12.13,"v":-20},{"t":12.25,"v":-16},{"t":12.46,"v":-13},{"t":12.64,"v":-20},{"t":12.77,"v":-16},{"t":13.02,"v":-11},{"t":13.15,"v":-16},{"t":13.28,"v":-20},{"t":13.41,"v":-27},{"t":13.54,"v":-20},{"t":13.80,"v":-16},{"t":13.92,"v":-11},{"t":14.05,"v":-4},{"t":14.10,"v":-9},{"t":14.18,"v":-20}],
"kp":[{"t":0.00,"v":13.4},{"t":0.08,"v":7.5},{"t":0.18,"v":8.7},{"t":0.26,"v":4.6},{"t":0.39,"v":13.4},{"t":0.49,"v":15.2},{"t":0.57,"v":7.5},{"t":0.64,"v":2.8},{"t":0.82,"v":2.8},{"t":0.90,"v":4.6},{"t":1.00,"v":13.4},{"t":1.06,"v":22.3},{"t":1.11,"v":16.4},{"t":1.16,"v":13.4},{"t":1.21,"v":18.1},{"t":1.26,"v":7.5},{"t":1.34,"v":4.6},{"t":1.41,"v":2.8},{"t":1.59,"v":2.8},{"t":1.72,"v":8.7},{"t":1.80,"v":2.8},{"t":1.93,"v":7.5},{"t":2.03,"v":18.1},{"t":2.08,"v":10.4},{"t":2.18,"v":7.5},{"t":2.29,"v":10.4},{"t":2.41,"v":6.3},{"t":2.49,"v":8.7},{"t":2.62,"v":4.6},{"t":2.75,"v":2.8},{"t":2.88,"v":2.8},{"t":3.01,"v":7.5},{"t":3.06,"v":13.4},{"t":3.13,"v":7.5},{"t":3.26,"v":4.6},{"t":3.39,"v":6.3},{"t":3.52,"v":10.4},{"t":3.65,"v":4.6},{"t":3.78,"v":7.5},{"t":3.85,"v":16.4},{"t":3.93,"v":10.4},{"t":4.03,"v":15.2},{"t":4.14,"v":12.2},{"t":4.24,"v":16.4},{"t":4.34,"v":7.5},{"t":4.44,"v":2.8},{"t":4.68,"v":2.8},{"t":4.80,"v":4.6},{"t":4.93,"v":13.4},{"t":5.01,"v":10.4},{"t":5.11,"v":8.7},{"t":5.22,"v":11.6},{"t":5.32,"v":6.3},{"t":5.45,"v":4.6},{"t":5.57,"v":6.3},{"t":5.70,"v":2.8},{"t":5.88,"v":2.8},{"t":5.96,"v":7.5},{"t":6.04,"v":13.4},{"t":6.14,"v":7.5},{"t":6.24,"v":13.4},{"t":6.35,"v":6.3},{"t":6.47,"v":2.8},{"t":6.65,"v":1.7},{"t":6.81,"v":4.6},{"t":6.91,"v":10.4},{"t":6.99,"v":7.5},{"t":7.06,"v":16.4},{"t":7.14,"v":13.4},{"t":7.27,"v":7.5},{"t":7.37,"v":8.7},{"t":7.50,"v":2.8},{"t":7.63,"v":2.8},{"t":7.76,"v":4.6},{"t":7.89,"v":16.4},{"t":7.96,"v":10.4},{"t":8.09,"v":8.7},{"t":8.19,"v":13.4},{"t":8.30,"v":7.5},{"t":8.40,"v":12.2},{"t":8.53,"v":2.8},{"t":8.71,"v":2.8},{"t":8.86,"v":4.6},{"t":8.97,"v":16.4},{"t":9.04,"v":13.4},{"t":9.17,"v":20.4},{"t":9.25,"v":13.4},{"t":9.38,"v":16.4},{"t":9.48,"v":10.4},{"t":9.58,"v":8.7},{"t":9.68,"v":13.4},{"t":9.79,"v":8.7},{"t":9.89,"v":6.3},{"t":9.99,"v":13.4},{"t":10.04,"v":19.3},{"t":10.12,"v":26.4},{"t":10.20,"v":16.4},{"t":10.30,"v":22.3},{"t":10.38,"v":13.4},{"t":10.46,"v":18.1},{"t":10.56,"v":10.4},{"t":10.66,"v":13.4},{"t":10.76,"v":7.5},{"t":10.87,"v":8.7},{"t":10.97,"v":6.3},{"t":11.10,"v":13.4},{"t":11.17,"v":19.3},{"t":11.23,"v":28.2},{"t":11.28,"v":16.4},{"t":11.38,"v":10.4},{"t":11.48,"v":13.4},{"t":11.59,"v":8.7},{"t":11.69,"v":16.4},{"t":11.79,"v":7.5},{"t":11.89,"v":4.6},{"t":12.00,"v":2.8},{"t":12.20,"v":2.8},{"t":12.38,"v":4.6},{"t":12.51,"v":13.4},{"t":12.59,"v":7.5},{"t":12.66,"v":10.4},{"t":12.77,"v":4.6},{"t":12.90,"v":2.8},{"t":13.02,"v":7.5},{"t":13.15,"v":2.8},{"t":13.33,"v":2.8},{"t":13.46,"v":6.3},{"t":13.54,"v":2.8},{"t":13.67,"v":4.6},{"t":13.80,"v":2.8},{"t":13.92,"v":4.6},{"t":14.00,"v":2.8},{"t":14.05,"v":10.4},{"t":14.10,"v":13.4},{"t":14.18,"v":6.3},{"t":14.26,"v":2.8},{"t":14.31,"v":0.6}],
"eb":[{"t":0.00,"v":3.55},{"t":0.08,"v":3.39},{"t":0.18,"v":3.30},{"t":0.31,"v":3.24},{"t":0.44,"v":3.39},{"t":0.57,"v":3.55},{"t":0.69,"v":3.75},{"t":0.82,"v":3.91},{"t":0.95,"v":4.0},{"t":1.03,"v":3.94},{"t":1.10,"v":3.45},{"t":1.16,"v":3.24},{"t":1.26,"v":3.24},{"t":1.36,"v":3.30},{"t":1.46,"v":3.55},{"t":1.59,"v":3.85},{"t":1.72,"v":3.94},{"t":1.85,"v":4.0},{"t":1.98,"v":4.0},{"t":2.06,"v":3.85},{"t":2.18,"v":3.64},{"t":2.29,"v":3.55},{"t":2.44,"v":3.48},{"t":2.57,"v":3.55},{"t":2.70,"v":3.76},{"t":2.83,"v":3.94},{"t":2.95,"v":4.0},{"t":3.06,"v":3.85},{"t":3.19,"v":3.64},{"t":3.31,"v":3.39},{"t":3.44,"v":3.39},{"t":3.57,"v":3.55},{"t":3.70,"v":3.76},{"t":3.85,"v":3.94},{"t":3.98,"v":4.0},{"t":4.03,"v":3.91},{"t":4.11,"v":3.45},{"t":4.19,"v":2.79},{"t":4.24,"v":2.33},{"t":4.34,"v":2.48},{"t":4.44,"v":2.79},{"t":4.55,"v":2.94},{"t":4.68,"v":3.15},{"t":4.80,"v":3.24},{"t":4.93,"v":3.24},{"t":5.06,"v":3.18},{"t":5.19,"v":3.03},{"t":5.32,"v":2.85},{"t":5.45,"v":2.94},{"t":5.57,"v":3.15},{"t":5.70,"v":3.18},{"t":5.88,"v":3.18},{"t":6.04,"v":3.09},{"t":6.22,"v":3.03},{"t":6.35,"v":3.03},{"t":6.53,"v":3.12},{"t":6.68,"v":3.24},{"t":6.81,"v":3.24},{"t":6.91,"v":3.15},{"t":7.01,"v":2.94},{"t":7.12,"v":2.48},{"t":7.19,"v":2.33},{"t":7.32,"v":2.48},{"t":7.45,"v":2.79},{"t":7.58,"v":3.03},{"t":7.71,"v":3.15},{"t":7.84,"v":3.21},{"t":7.96,"v":3.09},{"t":8.09,"v":2.85},{"t":8.22,"v":2.48},{"t":8.32,"v":2.33},{"t":8.45,"v":2.64},{"t":8.58,"v":2.79},{"t":8.71,"v":3.0},{"t":8.84,"v":3.15},{"t":8.99,"v":3.15},{"t":9.12,"v":2.94},{"t":9.25,"v":2.48},{"t":9.33,"v":1.88},{"t":9.38,"v":1.27},{"t":9.43,"v":1.73},{"t":9.51,"v":2.48},{"t":9.61,"v":2.79},{"t":9.74,"v":2.85},{"t":9.86,"v":2.79},{"t":9.94,"v":2.64},{"t":9.99,"v":2.03},{"t":10.04,"v":1.27},{"t":10.12,"v":1.03},{"t":10.20,"v":1.42},{"t":10.28,"v":1.03},{"t":10.35,"v":1.58},{"t":10.46,"v":1.03},{"t":10.53,"v":1.42},{"t":10.61,"v":1.88},{"t":10.66,"v":2.33},{"t":10.76,"v":2.48},{"t":10.84,"v":2.64},{"t":10.97,"v":2.54},{"t":11.10,"v":2.33},{"t":11.17,"v":2.03},{"t":11.28,"v":1.73},{"t":11.33,"v":1.88},{"t":11.38,"v":2.64},{"t":11.43,"v":2.79},{"t":11.53,"v":3.03},{"t":11.69,"v":3.24},{"t":11.87,"v":3.30},{"t":12.00,"v":3.15},{"t":12.13,"v":2.94},{"t":12.20,"v":2.64},{"t":12.31,"v":2.73},{"t":12.38,"v":2.94},{"t":12.51,"v":3.15},{"t":12.64,"v":3.30},{"t":12.77,"v":3.24},{"t":12.90,"v":3.09},{"t":13.02,"v":2.94},{"t":13.15,"v":2.94},{"t":13.28,"v":3.09},{"t":13.41,"v":3.18},{"t":13.54,"v":3.30},{"t":13.67,"v":3.24},{"t":13.80,"v":3.09},{"t":13.92,"v":2.94},{"t":14.05,"v":2.85},{"t":14.18,"v":2.94},{"t":14.31,"v":3.09},{"t":14.44,"v":3.18},{"t":14.57,"v":3.24},{"t":14.69,"v":3.30},{"t":14.82,"v":3.30},{"t":15.0,"v":3.24}],
"er":[{"t":0.00,"v":3.09},{"t":0.08,"v":3.39},{"t":0.18,"v":3.24},{"t":0.31,"v":3.24},{"t":0.44,"v":3.45},{"t":0.57,"v":3.64},{"t":0.69,"v":3.85},{"t":0.82,"v":3.94},{"t":0.90,"v":3.85},{"t":0.95,"v":3.45},{"t":0.98,"v":2.79},{"t":1.00,"v":2.48},{"t":1.05,"v":2.33},{"t":1.08,"v":2.12},{"t":1.13,"v":2.48},{"t":1.21,"v":2.79},{"t":1.28,"v":2.94},{"t":1.39,"v":3.09},{"t":1.52,"v":3.45},{"t":1.64,"v":3.70},{"t":1.77,"v":3.70},{"t":1.88,"v":3.45},{"t":1.98,"v":3.24},{"t":2.11,"v":3.24},{"t":2.24,"v":3.39},{"t":2.36,"v":3.48},{"t":2.49,"v":3.64},{"t":2.62,"v":3.85},{"t":2.75,"v":3.85},{"t":2.88,"v":3.70},{"t":3.01,"v":3.64},{"t":3.13,"v":3.45},{"t":3.26,"v":3.33},{"t":3.39,"v":3.33},{"t":3.52,"v":3.45},{"t":3.65,"v":3.70},{"t":3.78,"v":3.85},{"t":3.90,"v":3.91},{"t":4.01,"v":3.76},{"t":4.06,"v":3.24},{"t":4.11,"v":2.64},{"t":4.16,"v":2.48},{"t":4.21,"v":2.33},{"t":4.24,"v":1.15},{"t":4.26,"v":2.4},{"t":4.29,"v":2.64},{"t":4.42,"v":3.09},{"t":4.55,"v":3.09},{"t":4.68,"v":3.24},{"t":4.80,"v":3.15},{"t":4.93,"v":2.94},{"t":5.06,"v":2.79},{"t":5.14,"v":2.64},{"t":5.24,"v":2.94},{"t":5.37,"v":3.03},{"t":5.50,"v":3.15},{"t":5.70,"v":3.09},{"t":5.88,"v":3.03},{"t":6.04,"v":2.85},{"t":6.17,"v":2.64},{"t":6.29,"v":2.79},{"t":6.47,"v":3.0},{"t":6.65,"v":3.09},{"t":6.81,"v":3.09},{"t":6.94,"v":2.79},{"t":7.04,"v":2.48},{"t":7.14,"v":2.03},{"t":7.19,"v":1.88},{"t":7.27,"v":2.33},{"t":7.37,"v":2.64},{"t":7.50,"v":2.94},{"t":7.63,"v":3.09},{"t":7.76,"v":3.03},{"t":7.89,"v":2.79},{"t":8.02,"v":2.48},{"t":8.14,"v":2.03},{"t":8.19,"v":1.58},{"t":8.27,"v":2.33},{"t":8.40,"v":2.64},{"t":8.53,"v":2.64},{"t":8.66,"v":2.85},{"t":8.79,"v":2.79},{"t":8.91,"v":2.54},{"t":9.04,"v":2.33},{"t":9.12,"v":1.88},{"t":9.17,"v":1.58},{"t":9.25,"v":2.18},{"t":9.33,"v":2.64},{"t":9.43,"v":2.64},{"t":9.56,"v":2.85},{"t":9.69,"v":2.79},{"t":9.81,"v":2.48},{"t":9.89,"v":2.03},{"t":9.94,"v":1.27},{"t":10.02,"v":1.03},{"t":10.10,"v":1.73},{"t":10.20,"v":1.03},{"t":10.28,"v":1.58},{"t":10.38,"v":1.12},{"t":10.46,"v":1.42},{"t":10.58,"v":1.27},{"t":10.66,"v":1.73},{"t":10.76,"v":2.03},{"t":10.84,"v":2.24},{"t":10.97,"v":2.03},{"t":11.05,"v":1.58},{"t":11.15,"v":1.73},{"t":11.23,"v":1.42},{"t":11.33,"v":1.03},{"t":11.38,"v":2.48},{"t":11.48,"v":2.79},{"t":11.61,"v":3.03},{"t":11.74,"v":3.15},{"t":11.87,"v":3.09},{"t":12.00,"v":2.85},{"t":12.13,"v":2.54},{"t":12.20,"v":2.42},{"t":12.31,"v":2.64},{"t":12.46,"v":2.94},{"t":12.59,"v":3.09},{"t":12.72,"v":3.03},{"t":12.90,"v":2.79},{"t":13.02,"v":2.64},{"t":13.15,"v":2.79},{"t":13.28,"v":3.03},{"t":13.41,"v":3.15},{"t":13.54,"v":3.24},{"t":13.67,"v":3.09},{"t":13.80,"v":2.94},{"t":13.92,"v":2.79},{"t":14.05,"v":2.85},{"t":14.18,"v":3.03},{"t":14.31,"v":3.09},{"t":14.44,"v":3.18},{"t":14.57,"v":3.24},{"t":14.69,"v":3.15},{"t":14.82,"v":3.09},{"t":15.0,"v":3.0}]
},
"vconcat":[
{"width":584,"height":45,"title":{"text":"rl"},
"layer":[
{"data":{"name":"xr"},"mark":{"type":"rule","color":"#ff00ff","strokeWidth":1.2},
"encoding":{"x":{"field":"t","type":"quantitative","title":null,"scale":{"domain":[0,15],"nice":false,"zero":false},"axis":{"values":[1,2,3,4,5,6,7,8,9,10,11,12,13,14],"labels":false}},
"y":{"field":"v","type":"quantitative","title":null,"scale":{"domain":[-1.09,3],"nice":false,"zero":false},"axis":{"values":[2,1,0],"labelOverlap":false,"labelExpr":"datum.value == 2 ? 'X' : datum.value == 1 ? 'M' : 'C'"}},
"y2":{"datum":-1.09}}},
{"data":{"name":"xo"},"mark":{"type":"point","shape":"circle","filled":false,"color":"#0000c0","size":28,"strokeWidth":1.3,"opacity":1},
"encoding":{"x":{"field":"t","type":"quantitative","title":null,"axis":{"values":[1,2,3,4,5,6,7,8,9,10,11,12,13,14],"labels":false}},"y":{"field":"v","type":"quantitative","title":null,"axis":{"values":[2,1,0],"labelOverlap":false,"labelExpr":"datum.value == 2 ? 'X' : datum.value == 1 ? 'M' : 'C'"}}}}
]},
{"width":584,"height":45,"title":{"text":"rl"},
"layer":[
{"data":{"name":"sw"},"mark":{"type":"line","color":"#22e022","strokeWidth":2},
"encoding":{"x":{"field":"t","type":"quantitative","title":null,"scale":{"domain":[0,15],"nice":false,"zero":false},"axis":{"values":[1,2,3,4,5,6,7,8,9,10,11,12,13,14],"labels":false}},
"y":{"field":"v","type":"quantitative","title":null,"scale":{"domain":[300,800],"nice":false,"zero":false},"axis":{"values":[700,600,500,400],"labelOverlap":false}},
"detail":{"field":"s","type":"nominal"}}}
]},
{"width":584,"height":45,"title":{"text":"rl"},
"layer":[
{"data":{"name":"tas"},"mark":{"type":"rule","strokeWidth":2.5},
"encoding":{"x":{"field":"t","type":"quantitative","title":null,"scale":{"domain":[0,15],"nice":false,"zero":false},"axis":{"values":[1,2,3,4,5,6,7,8,9,10,11,12,13,14],"labels":false}},
"y":{"field":"lo","type":"quantitative","title":null,"scale":{"domain":[-2.09,2],"nice":false,"zero":false},"axis":{"values":[1,-1],"labelOverlap":false,"labelExpr":"datum.value > 0 ? 'T' : 'A'"}},
"y2":{"field":"hi"},
"color":{"field":"k","type":"nominal","scale":{"domain":["Tp","Ap","Gp","Tl","Al","Xl"],"range":["#a8e2f8","#f6b6f0","#c8c8c8","#4450e0","#d01010","#4e7a52"]},"legend":null}}},
{"data":{"values":[{}]},"mark":{"type":"rule","color":"#808080","strokeWidth":1.5},"encoding":{"y":{"datum":0,"title":null,"axis":{"values":[1,-1],"labelOverlap":false,"labelExpr":"datum.value > 0 ? 'T' : 'A'"}}}},
{"data":{"name":"tal"},"mark":{"type":"line","strokeWidth":1.5},
"encoding":{"x":{"field":"t","type":"quantitative","title":null,"axis":{"values":[1,2,3,4,5,6,7,8,9,10,11,12,13,14],"labels":false}},"y":{"field":"v","type":"quantitative","title":null,"axis":{"values":[1,-1],"labelOverlap":false,"labelExpr":"datum.value > 0 ? 'T' : 'A'"}},
"color":{"field":"c","type":"nominal","scale":{"domain":["Tp","Ap","Gp","Tl","Al","Xl"],"range":["#a8e2f8","#f6b6f0","#c8c8c8","#4450e0","#d01010","#4e7a52"]},"legend":null},
"detail":{"field":"s","type":"nominal"}}}
]},
{"width":584,"height":45,"title":{"text":"rl"},
"layer":[
{"data":{"name":"bt"},"mark":{"type":"line","color":"#0000ff","strokeWidth":2},
"encoding":{"x":{"field":"t","type":"quantitative","title":null,"scale":{"domain":[0,15],"nice":false,"zero":false},"axis":{"values":[1,2,3,4,5,6,7,8,9,10,11,12,13,14],"labels":false}},
"y":{"field":"v","type":"quantitative","title":null,"scale":{"domain":[-20.5,20.5],"nice":false,"zero":false},"axis":{"values":[10,0,-10],"labelOverlap":false}}}},
{"data":{"values":[{}]},"mark":{"type":"rule","color":"#a00000","strokeWidth":1.2},"encoding":{"y":{"datum":0,"title":null,"axis":{"values":[10,0,-10],"labelOverlap":false}}}},
{"data":{"name":"bz"},"mark":{"type":"area","color":"#ff0000","opacity":1},
"encoding":{"x":{"field":"t","type":"quantitative","title":null,"axis":{"values":[1,2,3,4,5,6,7,8,9,10,11,12,13,14],"labels":false}},"y":{"field":"lo","type":"quantitative","title":null,"axis":{"values":[10,0,-10],"labelOverlap":false}},"y2":{"field":"hi"}}}
]},
{"width":584,"height":45,
"layer":[
{"data":{"name":"dst"},"mark":{"type":"line","color":"#ff00ff","strokeWidth":1.3},
"encoding":{"x":{"field":"t","type":"quantitative","title":null,"scale":{"domain":[0,15],"nice":false,"zero":false},"axis":{"values":[1,2,3,4,5,6,7,8,9,10,11,12,13,14],"labels":false}},
"y":{"field":"v","type":"quantitative","title":null,"scale":{"domain":[-200,100],"nice":false,"zero":false},"axis":{"values":[0,-100],"labelOverlap":false}}}},
{"data":{"values":[{}]},"mark":{"type":"rule","color":"#a00000","strokeWidth":1.3},"encoding":{"y":{"datum":0,"title":null,"axis":{"values":[0,-100],"labelOverlap":false}}}}
]},
{"width":584,"height":45,
"layer":[
{"data":{"name":"kp"},"mark":{"type":"line","color":"#22e8e8","strokeWidth":1.3},
"encoding":{"x":{"field":"t","type":"quantitative","title":null,"scale":{"domain":[0,15],"nice":false,"zero":false},"axis":{"values":[1,2,3,4,5,6,7,8,9,10,11,12,13,14],"labels":false}},
"y":{"field":"v","type":"quantitative","title":null,"scale":{"domain":[-2,78],"nice":false,"zero":false},"axis":{"values":[60,40,20],"labelOverlap":false}}}}
]},
{"width":584,"height":45,"title":{"text":"rl"},
"layer":[
{"data":{"name":"eb"},"mark":{"type":"line","color":"#0000ff","strokeWidth":1.5},
"encoding":{"x":{"field":"t","type":"quantitative","title":"2010","scale":{"domain":[0,15],"nice":false,"zero":false},"axis":{"title":"2010","values":[0,1,2,3,4,5,6,7,8,9,10,11,12,13,14],"labelOverlap":false,"labelExpr":"datum.value < 4 ? '6/ ' + (datum.value + 6) : '6/' + (datum.value + 6)","labelOffset":19.5,"labelPadding":2,"labelBaseline":"top","labelAlign":"center","titleX":-28,"titleY":2,"titleAlign":"left","titleAnchor":"start","titleBaseline":"top","titleFontWeight":"normal","titleFontSize":11,"titleFont":"Liberation Sans","titleColor":"black"}},
"y":{"field":"v","type":"quantitative","title":null,"scale":{"domain":[0.94,5.03],"nice":false,"zero":false},"axis":{"values":[4,3,2],"labelOverlap":false,"labelExpr":"datum.value == 4 ? '10⁴' : datum.value == 3 ? '10³' : '10²'"}}}},
{"data":{"values":[{}]},"mark":{"type":"rule","color":"#a00000","strokeWidth":1.3,"strokeDash":[8,4]},"encoding":{"y":{"datum":4,"title":null,"axis":{"values":[4,3,2],"labelOverlap":false,"labelExpr":"datum.value == 4 ? '10⁴' : datum.value == 3 ? '10³' : '10²'"}}}},
{"data":{"name":"er"},"mark":{"type":"line","color":"#ff0000","strokeWidth":1.5},
"encoding":{"x":{"field":"t","type":"quantitative","title":"2010","axis":{"title":"2010","values":[0,1,2,3,4,5,6,7,8,9,10,11,12,13,14],"labelOverlap":false,"labelExpr":"datum.value < 4 ? '6/ ' + (datum.value + 6) : '6/' + (datum.value + 6)","labelOffset":19.5,"labelPadding":2,"labelBaseline":"top","labelAlign":"center","titleX":-28,"titleY":2,"titleAlign":"left","titleAnchor":"start","titleBaseline":"top","titleFontWeight":"normal","titleFontSize":11,"titleFont":"Liberation Sans","titleColor":"black"}},"y":{"field":"v","type":"quantitative","title":null,"axis":{"values":[4,3,2],"labelOverlap":false,"labelExpr":"datum.value == 4 ? '10⁴' : datum.value == 3 ? '10³' : '10²'"}}}}
]}
]
}
